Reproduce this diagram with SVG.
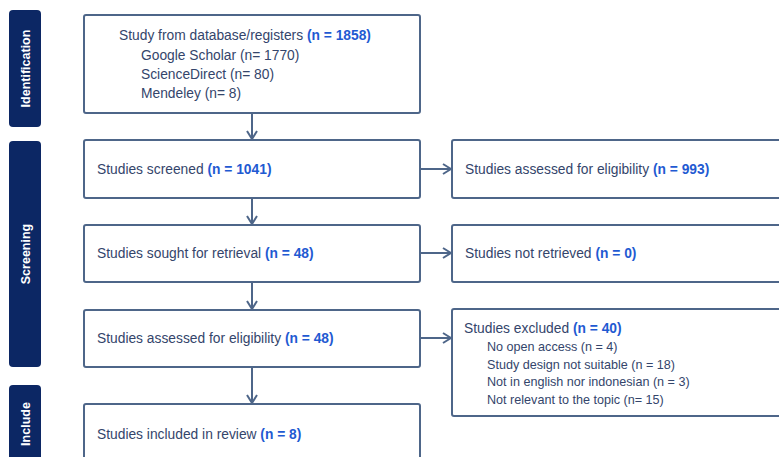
<svg xmlns="http://www.w3.org/2000/svg" width="779" height="457" viewBox="0 0 779 457">
<style>
.bar{fill:#0c2764;}
.bar-t{fill:#ffffff;font-family:"Liberation Sans",Arial,sans-serif;font-weight:bold;font-size:12.5px;text-anchor:middle;}
.box{fill:#ffffff;stroke:#4e6689;stroke-width:2;}
.t{fill:#34456b;font-family:"Liberation Sans",Arial,sans-serif;font-size:13.8px;}
.s{fill:#34456b;font-family:"Liberation Sans",Arial,sans-serif;font-size:12.6px;}
.n{fill:#1f5ad2;font-weight:bold;}
.c{fill:none;stroke:#4e6689;stroke-width:2;}
</style>
<defs>
<marker id="ah" markerWidth="10" markerHeight="12" refX="9" refY="6" orient="auto" markerUnits="userSpaceOnUse">
<path d="M1,1 L9,6 L1,11" fill="none" stroke="#4e6689" stroke-width="2"/>
</marker>
</defs>
<rect width="779" height="457" fill="#ffffff"/>
<g id="phase-identification">
<rect class="bar" x="9" y="10" width="32" height="117" rx="4"/>
<text class="bar-t" transform="translate(29.5,68.5) rotate(-90)">Identification</text>
</g>
<g id="phase-screening">
<rect class="bar" x="9" y="141" width="32" height="226" rx="4"/>
<text class="bar-t" transform="translate(29.5,254) rotate(-90)">Screening</text>
</g>
<g id="phase-include">
<rect class="bar" x="9" y="385" width="32" height="80" rx="4"/>
<text class="bar-t" transform="translate(29.5,424) rotate(-90)">Include</text>
</g>
<g id="connectors">
<line class="c" x1="252" y1="113" x2="252" y2="139" marker-end="url(#ah)"/>
<line class="c" x1="252" y1="198" x2="252" y2="224" marker-end="url(#ah)"/>
<line class="c" x1="252" y1="282" x2="252" y2="309" marker-end="url(#ah)"/>
<line class="c" x1="252" y1="367" x2="252" y2="403" marker-end="url(#ah)"/>
<line class="c" x1="420" y1="169" x2="451" y2="169" marker-end="url(#ah)"/>
<line class="c" x1="420" y1="253" x2="451" y2="253" marker-end="url(#ah)"/>
<line class="c" x1="420" y1="338" x2="451" y2="338" marker-end="url(#ah)"/>
</g>
<g id="node-identification">
<rect class="box" x="84" y="15" width="336" height="98" rx="2"/>
<text class="t" x="119" y="40">Study from database/registers <tspan class="n">(n = 1858)</tspan></text>
<text class="t" x="141" y="60">Google Scholar (n= 1770)</text>
<text class="t" x="141" y="79">ScienceDirect (n= 80)</text>
<text class="t" x="141" y="98">Mendeley (n= 8)</text>
</g>
<g id="node-screened">
<rect class="box" x="84" y="140" width="336" height="58" rx="2"/>
<text class="t" x="97" y="174">Studies screened <tspan class="n">(n = 1041)</tspan></text>
</g>
<g id="node-sought">
<rect class="box" x="84" y="225" width="336" height="57" rx="2"/>
<text class="t" x="97" y="258">Studies sought for retrieval <tspan class="n">(n = 48)</tspan></text>
</g>
<g id="node-assessed">
<rect class="box" x="84" y="310" width="336" height="57" rx="2"/>
<text class="t" x="97" y="343">Studies assessed for eligibility <tspan class="n">(n = 48)</tspan></text>
</g>
<g id="node-included">
<rect class="box" x="84" y="404" width="336" height="70" rx="2"/>
<text class="t" x="97" y="439">Studies included in review <tspan class="n">(n = 8)</tspan></text>
</g>
<g id="node-eligibility-993">
<rect class="box" x="452" y="140" width="340" height="58" rx="2"/>
<text class="t" x="465" y="174">Studies assessed for eligibility <tspan class="n">(n = 993)</tspan></text>
</g>
<g id="node-not-retrieved">
<rect class="box" x="452" y="225" width="340" height="57" rx="2"/>
<text class="t" x="465" y="258">Studies not retrieved <tspan class="n">(n = 0)</tspan></text>
</g>
<g id="node-excluded">
<rect class="box" x="452" y="309" width="340" height="107" rx="2"/>
<text class="t" x="464" y="333">Studies excluded <tspan class="n">(n = 40)</tspan></text>
<text class="s" x="487" y="351">No open access (n = 4)</text>
<text class="s" x="487" y="368.5">Study design not suitable (n = 18)</text>
<text class="s" x="487" y="386">Not in english nor indonesian (n = 3)</text>
<text class="s" x="487" y="403.5">Not relevant to the topic (n= 15)</text>
</g>
</svg>
